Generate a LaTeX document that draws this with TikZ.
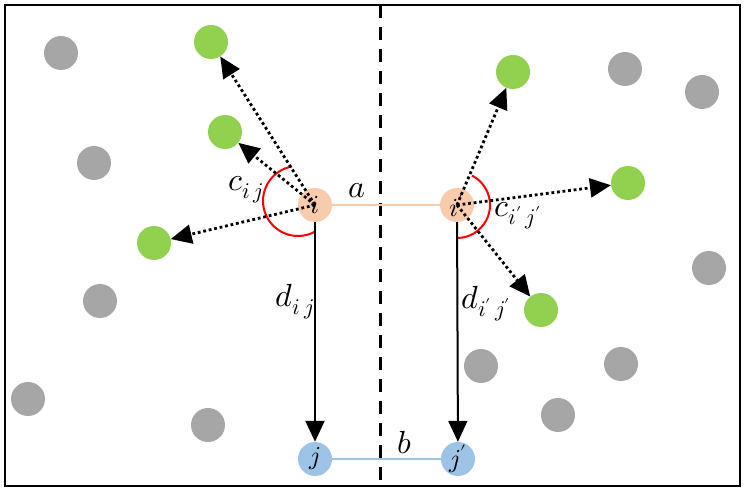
\documentclass[tikz,border=0pt]{standalone}
\usepackage{unicode-math}
\setmathfont{Latin Modern Math}
\usetikzlibrary{arrows.meta}
\definecolor{grayc}{HTML}{A6A6A6}
\definecolor{greenc}{HTML}{92D050}
\definecolor{orangec}{HTML}{F8CBAD}
\definecolor{bluec}{HTML}{9DC3E6}
\begin{document}
\begin{tikzpicture}[x=1pt,y=-1pt,
  dot/.style={circle,inner sep=0pt,minimum size=34pt},
  gdot/.style={dot,fill=grayc},
  ndot/.style={dot,fill=greenc},
  odot/.style={dot,fill=orangec,font=\fontsize{26}{30}\selectfont},
  bdot/.style={dot,fill=bluec,font=\fontsize{26}{30}\selectfont},
  lbl/.style={inner sep=0pt,font=\fontsize{32}{36}\selectfont},
  dotarrow/.style={line width=2.8pt,dash pattern=on 2.8pt off 2.8pt,-{Triangle[length=21pt,width=19pt]}},
  solidarrow/.style={line width=2pt,-{Triangle[length=21pt,width=19pt]}},
  anglearc/.style={red,line width=2pt}]
\useasboundingbox (0,0) rectangle (745,489);
\draw[line width=2.2pt] (5,5) rectangle (740,486);
\draw[line width=3pt,dash pattern=on 13pt off 9pt] (380,5) -- (380,486);
% gray
\foreach \p/\n in {(61,53)/g1,(94,163)/g2,(100,301)/g3,(28,399)/g4,(208,425)/g5,(625,69)/g6,(702,92)/g7,(709,268)/g8,(621,364)/g9,(481,366)/g10,(558,415)/g11}
  \node[gdot] (\n) at \p {};
% green
\node[ndot] (n1) at (211,42) {};
\node[ndot] (n2) at (225,132) {};
\node[ndot] (n3) at (154,243) {};
\node[ndot] (n4) at (513,72) {};
\node[ndot] (n5) at (628,183) {};
\node[ndot] (n6) at (541,310) {};
% main nodes
\node[odot] (i) at (315,205) {};
\node[odot] (ip) at (457,205) {};
\node[bdot] (j) at (315,459) {};
\node[bdot] (jp) at (458,459) {};
% links
\draw[orangec,line width=1.8pt] (i) -- (ip);
\draw[bluec,line width=1.8pt] (j) -- (jp);
% red arcs
\draw[anglearc] (298,201) ++(100:35pt) arc[start angle=100,end angle=299,radius=35pt];
\draw[anglearc] (457,205) ++(63:33pt) arc[start angle=63,end angle=-90,radius=33pt];
% dotted arrows
\draw[dotarrow] (i.center) -- (n1);
\draw[dotarrow] (i.center) -- (n2);
\draw[dotarrow] (i.center) -- (n3);
\draw[dotarrow] (ip.center) -- (n4);
\draw[dotarrow] (ip.center) -- (n5);
\draw[dotarrow] (ip.center) -- (n6);
% solid arrows
\draw[solidarrow] (i) -- (j);
\draw[solidarrow] (ip) -- (jp);
% node labels on top
\node[odot,fill=none] at (i) {$i$};
\node[odot,fill=none] at (ip) {$i'$};
\node[bdot,fill=none] at (j) {$j$};
\node[bdot,fill=none] at (jp) {$j'$};
% text labels
\node[lbl] (la) at (357,191) {$a$};
\node[lbl] (lb) at (405,443) {$b$};
\node[lbl] (cij) at (246,190) {$c_{i\,j}$};
\node[lbl] (cipjp) at (518,216) {$c_{i'\,j'}$};
\node[lbl] (dij) at (295,302) {$d_{i\,j}$};
\node[lbl] (dipjp) at (486,304) {$d_{i'\,j'}$};
\end{tikzpicture}
\end{document}
